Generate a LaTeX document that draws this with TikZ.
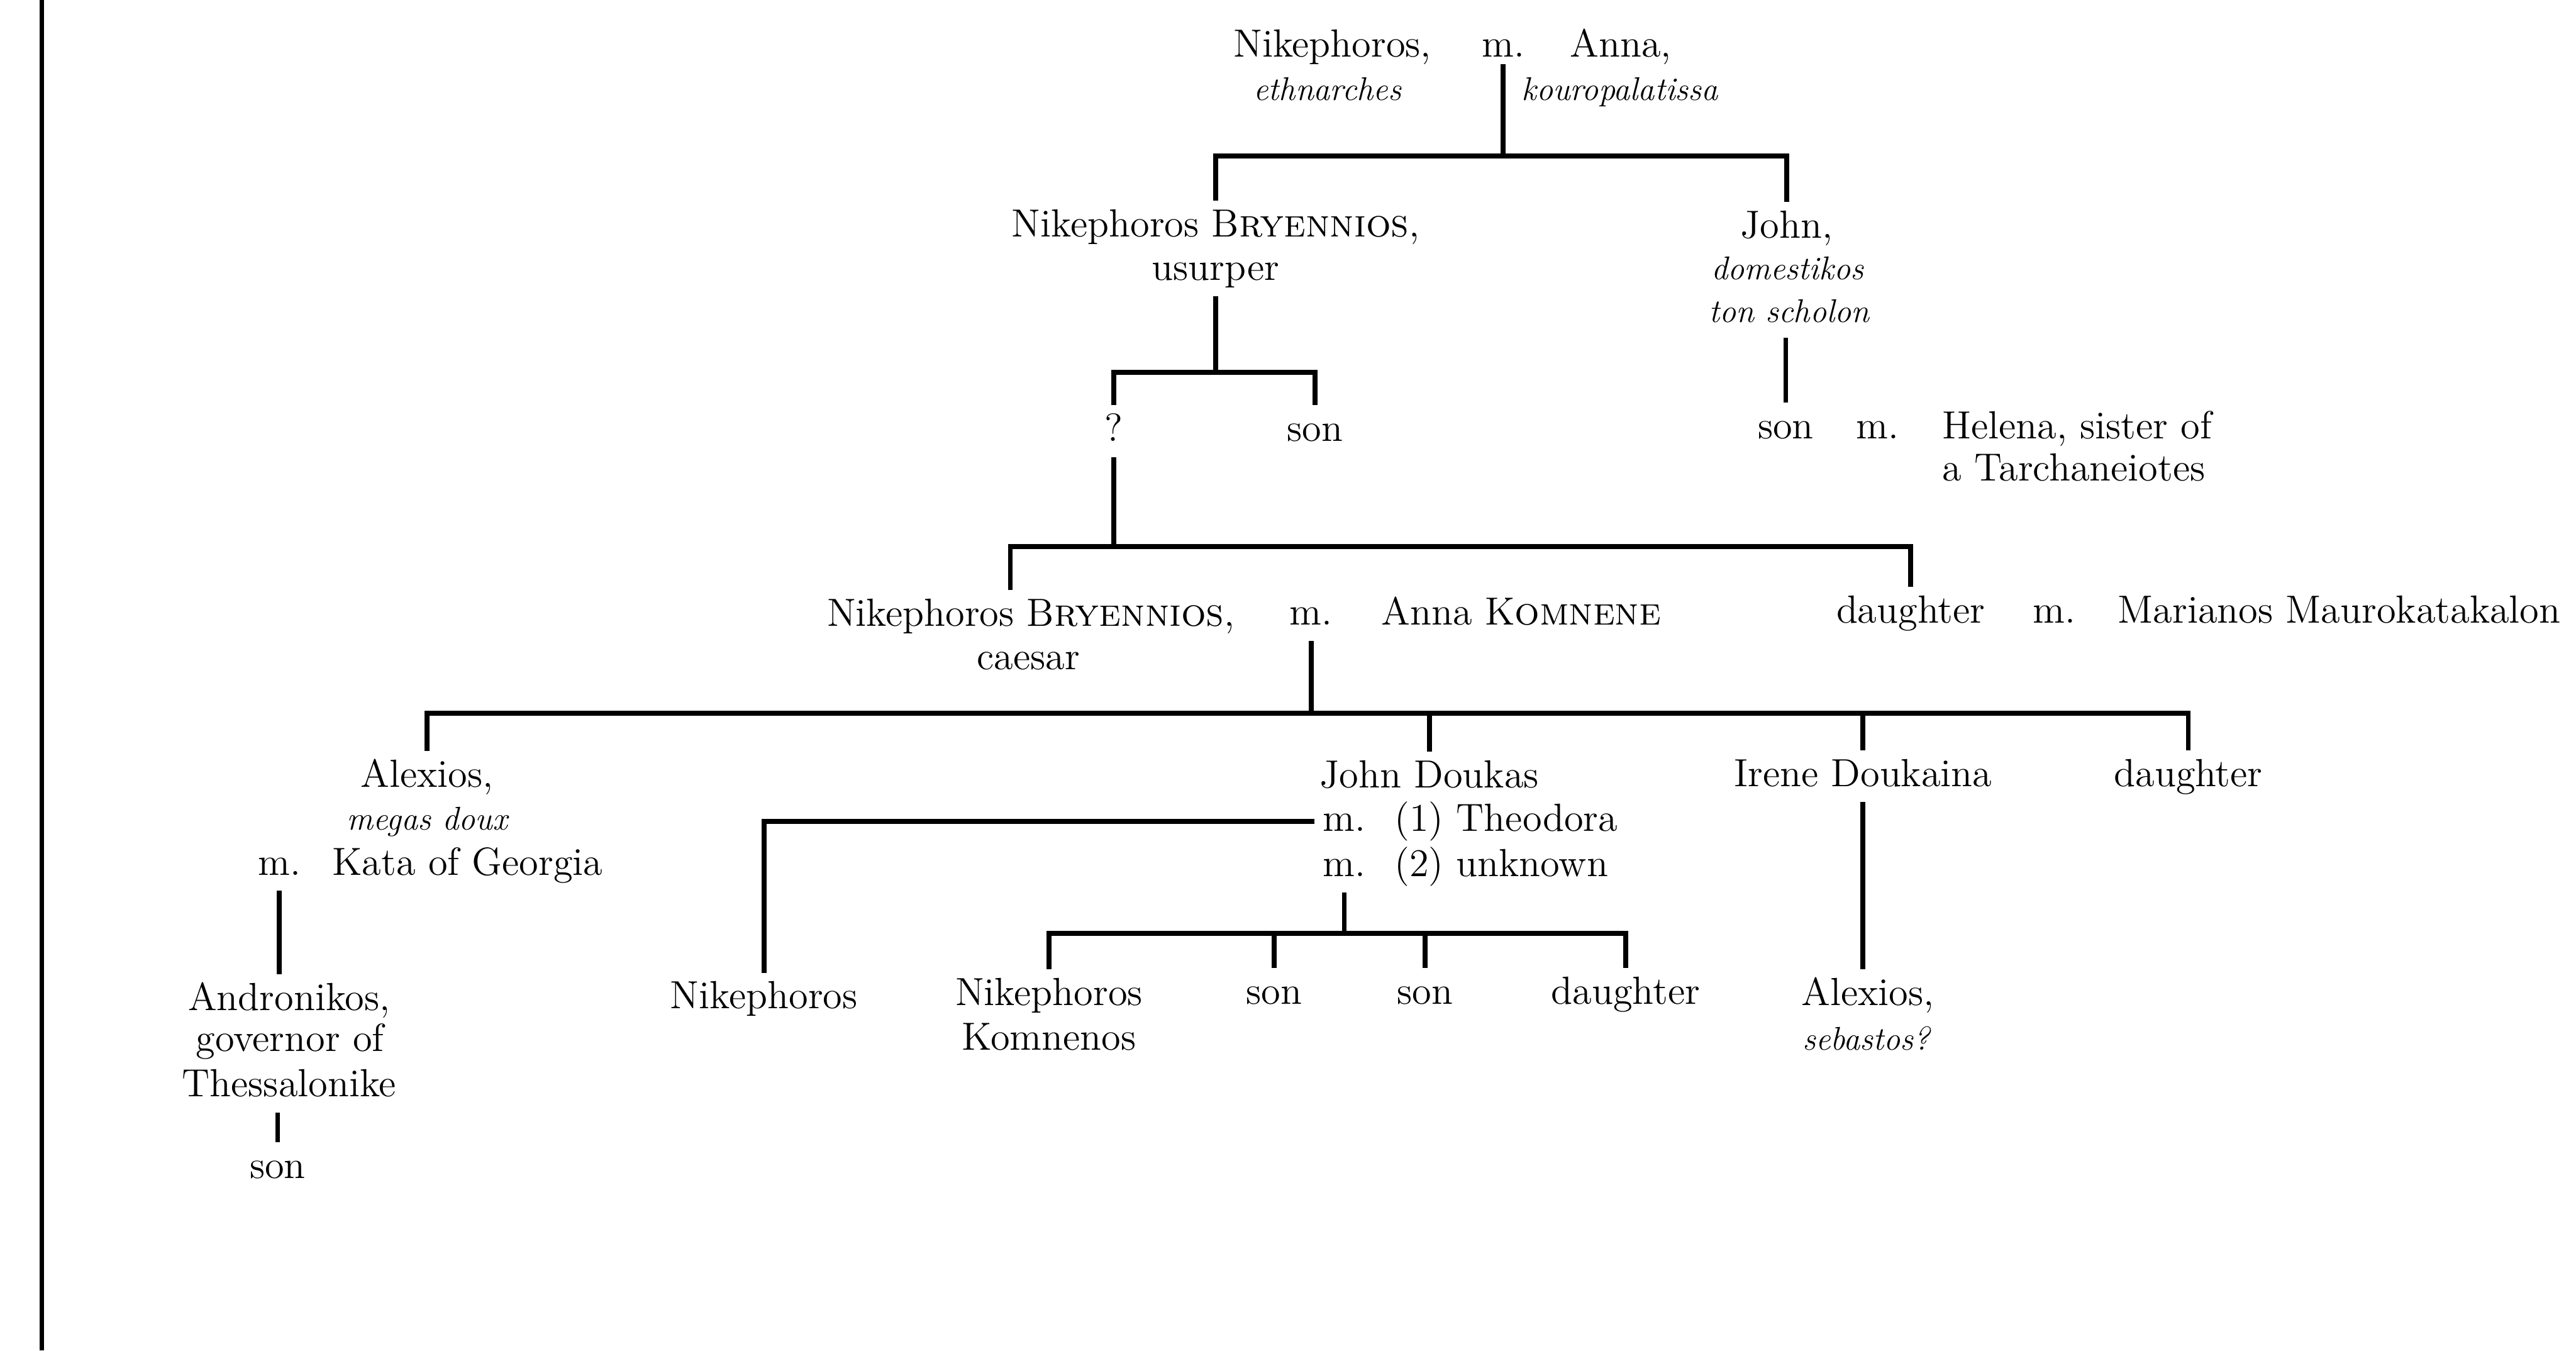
\documentclass[tikz,border=0pt]{standalone}
\begin{document}
\begin{tikzpicture}[
    pers/.style={anchor=base, inner sep=0pt, outer sep=3pt, text height=9.5pt, text depth=2.5pt, font=\fontsize{13.6}{15.4}\selectfont},
    persl/.style={pers, anchor=base west},
    rank/.style={pers, font=\fontsize{11.4}{15.4}\selectfont\itshape},
    stem/.style={line width=1.7pt},
]
\useasboundingbox (0,0) rectangle (31.36,-16.44);

% Frame rule at the left
\draw[line width=1.5pt] (0.51,0) -- (0.51,-16.44);

% Bar heights
\coordinate (bar1) at (0,-1.90);
\coordinate (bar2) at (0,-4.53);
\coordinate (bar3) at (0,-6.65);
\coordinate (bar4) at (0,-8.68);
\coordinate (bar5) at (0,-11.36);

% Generation 1
\node[pers] (nik1) at (16.22,-0.69) {Nikephoros,};
\node[pers] (m1) at (18.30,-0.69) {m.};
\node[pers] (anna1) at (19.73,-0.69) {Anna,};
\node[rank] (ethn) at (16.16,-1.22) {ethnarches};
\node[rank] (kour) at (19.72,-1.22) {kouropalatissa};

% Generation 2
\node[pers] (nb1) at (14.80,-2.88) {Nikephoros B\textsc{ryennios},};
\node[pers] (usurp) at (14.80,-3.41) {usurper};
\node[pers] (john) at (21.75,-2.90) {John,};
\node[rank] (dom) at (21.76,-3.40) {domestikos};
\node[rank] (ton) at (21.78,-3.92) {ton scholon};

% Generation 3
\node[pers] (q) at (13.56,-5.37) {?};
\node[pers] (son1) at (16.01,-5.37) {son};
\node[pers] (son2) at (21.74,-5.34) {son};
\node[pers] (m2) at (22.86,-5.34) {m.};
\node[persl] (hel) at (23.54,-5.34) {Helena, sister of};
\node[persl] (tarch) at (23.54,-5.85) {a Tarchaneiotes};

% Generation 4
\node[pers] (nb2) at (12.55,-7.62) {Nikephoros B\textsc{ryennios},};
\node[pers] (caes) at (12.52,-8.15) {caesar};
\node[pers] (m3) at (15.96,-7.61) {m.};
\node[persl] (annak) at (16.71,-7.61) {Anna K\textsc{omnene}};
\node[pers] (dau1) at (23.26,-7.58) {daughter};
\node[pers] (m4) at (25.01,-7.58) {m.};
\node[persl] (mar) at (25.68,-7.58) {Marianos Maurokatakalon};

% Generation 5
\node[pers] (alex1) at (5.20,-9.58) {Alexios,};
\node[rank] (megas) at (5.20,-10.10) {megas doux};
\node[pers] (m5) at (3.40,-10.65) {m.};
\node[persl] (kata) at (3.94,-10.65) {Kata of Georgia};
\node[persl] (jd) at (15.96,-9.59) {John Doukas};
\node[persl] (jdm1) at (16.00,-10.12) {m.};
\node[persl] (theo) at (16.87,-10.12) {(1) Theodora};
\node[persl] (jdm2) at (16.00,-10.67) {m.};
\node[persl] (unk) at (16.87,-10.67) {(2) unknown};
\node[pers] (irene) at (22.68,-9.57) {Irene Doukaina};
\node[pers] (dau2) at (26.64,-9.57) {daughter};

% Generation 6
\node[pers] (andr) at (3.52,-12.30) {Andronikos,};
\node[pers] (gov) at (3.53,-12.80) {governor of};
\node[pers] (thess) at (3.52,-13.35) {Thessalonike};
\node[pers] (son5) at (3.38,-14.34) {son};
\node[pers] (nik3) at (9.30,-12.28) {Nikephoros};
\node[pers] (nk) at (12.77,-12.24) {Nikephoros};
\node[pers] (komn) at (12.77,-12.78) {Komnenos};
\node[pers] (son3) at (15.51,-12.22) {son};
\node[pers] (son4) at (17.35,-12.22) {son};
\node[pers] (dau3) at (19.79,-12.22) {daughter};
\node[pers] (alex2) at (22.74,-12.24) {Alexios,};
\node[rank] (seb) at (22.72,-12.78) {sebastos?};

% Lines of descent
\draw[stem] ([yshift=0.1cm]m1.south) -- (m1.south |- bar1);
\draw[stem] (nb1.north) |- (john.north |- bar1) -- (john.north);

\draw[stem] (usurp.south) -- (usurp.south |- bar2);
\draw[stem] (q.north) |- (son1.north |- bar2) -- (son1.north);
\draw[stem] (son2.north |- ton.south) -- (son2.north);

\draw[stem] (q.south) -- (q.south |- bar3);
\draw[stem] ([xshift=-0.25cm]nb2.north) |- (dau1.north |- bar3) -- (dau1.north);

\draw[stem] (m3.south) -- (m3.south |- bar4);
\draw[stem] (alex1.north) |- (dau2.north |- bar4) -- (dau2.north);
\draw[stem] (jd.north |- bar4) -- (jd.north);
\draw[stem] (irene.north |- bar4) -- (irene.north);

\draw[stem] (m5.south) -- (m5.south |- andr.north);
\draw[stem] (son5.north |- thess.south) -- (son5.north);
\draw[stem] (jdm1.west) -| (nik3.north);
\draw[stem] (jdm2.south) -- (jdm2.south |- bar5);
\draw[stem] (nk.north) |- (dau3.north |- bar5) -- (dau3.north);
\draw[stem] (son3.north |- bar5) -- (son3.north);
\draw[stem] (son4.north |- bar5) -- (son4.north);
\draw[stem] (irene.south) -- (irene.south |- alex2.north);

\end{tikzpicture}
\end{document}
